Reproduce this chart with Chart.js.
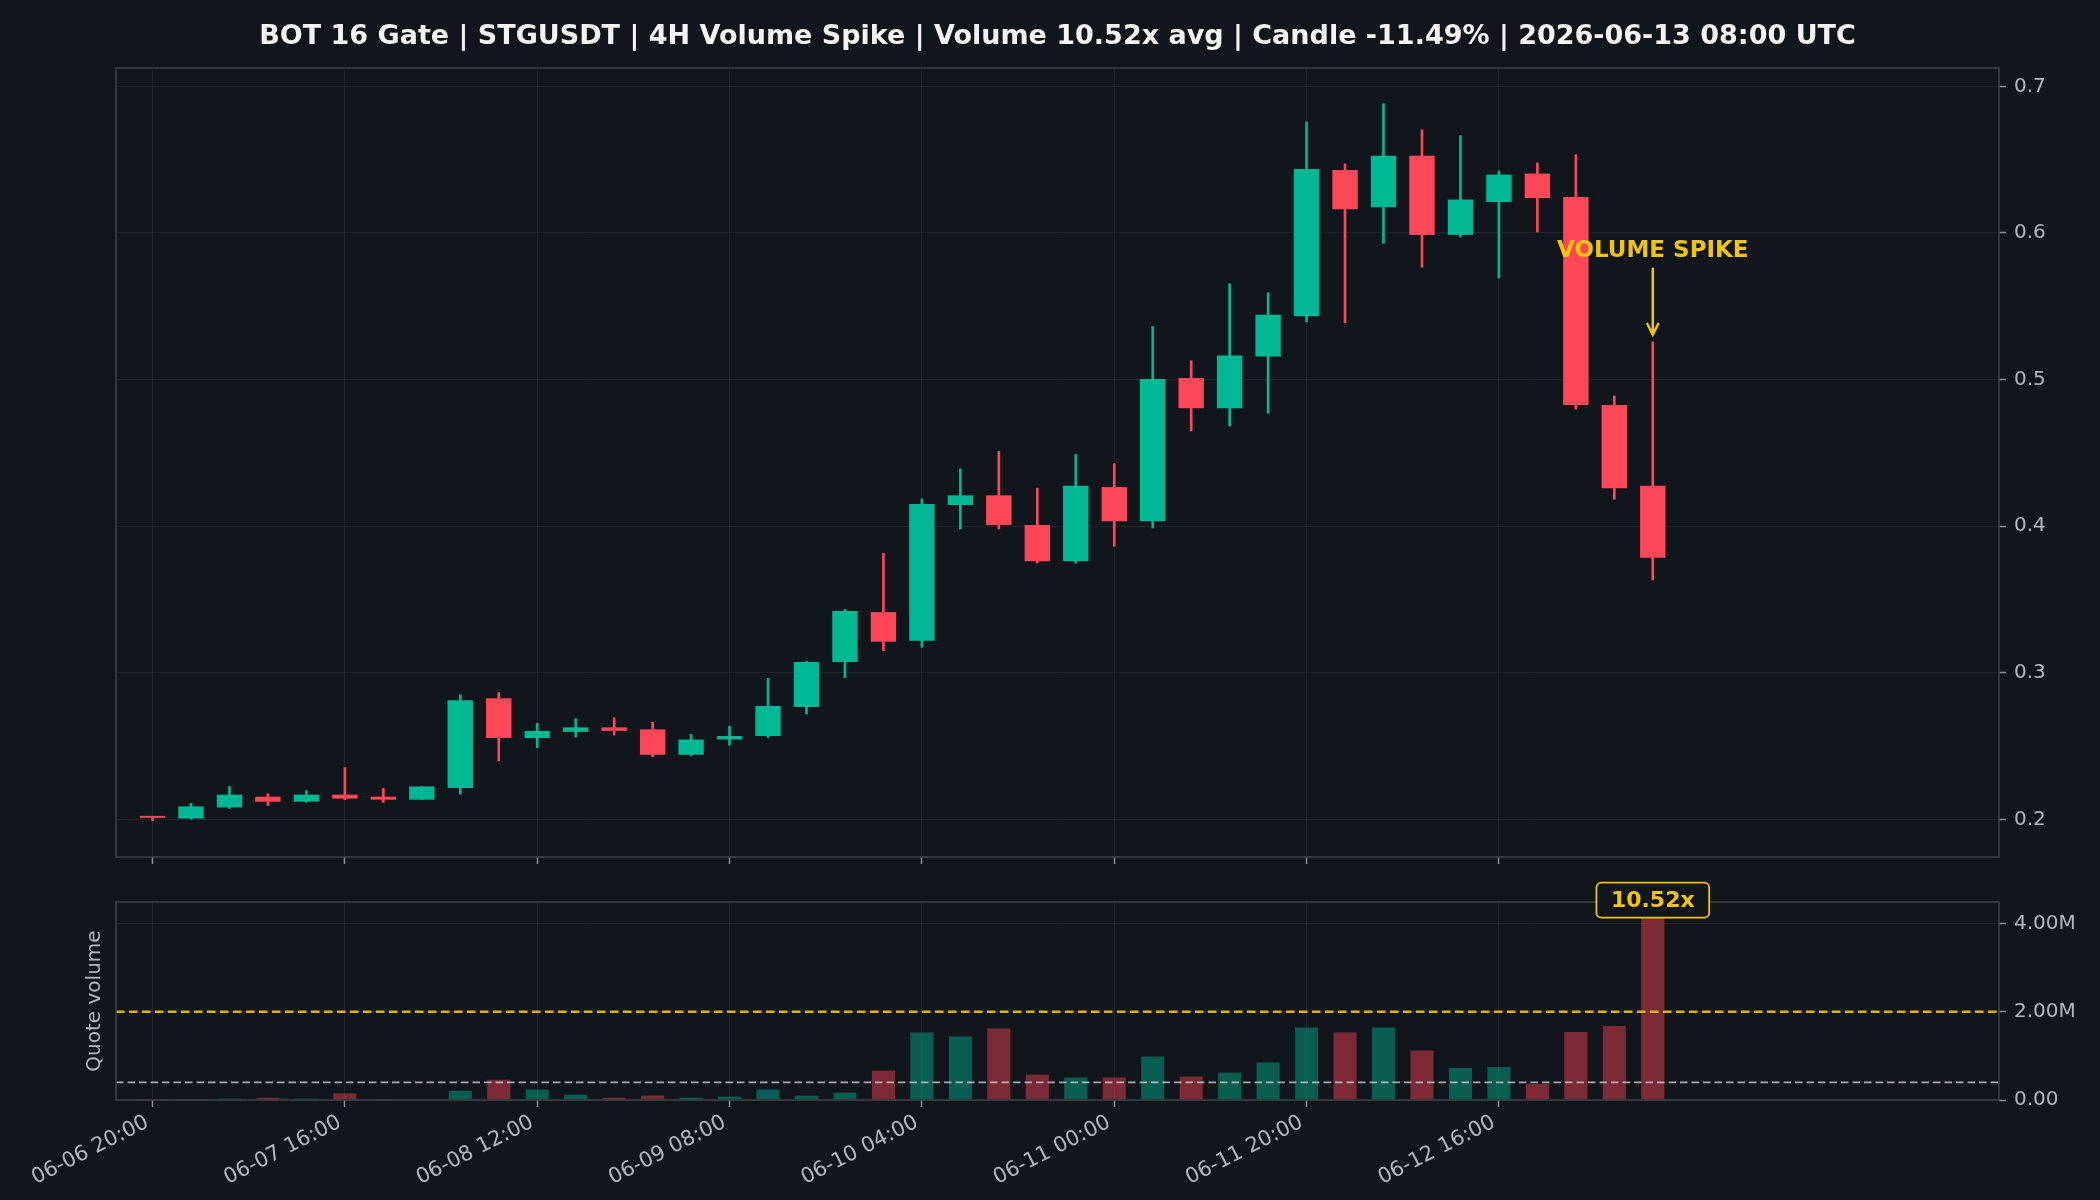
<!DOCTYPE html>
<html>
<head>
<meta charset="utf-8">
<script src="https://cdn.jsdelivr.net/npm/chart.js@4.4.1/dist/chart.umd.min.js"></script>
<style>
html, body { margin: 0; padding: 0; background: #11151c; }
#wrap { position: relative; width: 2100px; height: 1200px; background: #11151c; }
canvas { position: absolute; left: 0; top: 0; }
</style>
</head>
<body>
<div id="wrap">
  <canvas id="price" width="2100" height="1200"></canvas>
  <canvas id="vol" width="2100" height="1200"></canvas>
</div>
<script>
// ---------------- DATA ----------------
const titleText = 'BOT 16 Gate | STGUSDT | 4H Volume Spike | Volume 10.52x avg | Candle -11.49% | 2026-06-13 08:00 UTC';
const tickIndex = [0, 5, 10, 15, 20, 25, 30, 35];
const tickLabels = ['06-06 20:00', '06-07 16:00', '06-08 12:00', '06-09 08:00', '06-10 04:00', '06-11 00:00', '06-11 20:00', '06-12 16:00'];

const openP  = [0.2020, 0.2007, 0.2083, 0.2156, 0.2122, 0.2170, 0.2156, 0.2136, 0.2216, 0.2828,
                0.2556, 0.2598, 0.2629, 0.2615, 0.2442, 0.2546, 0.2570, 0.2768, 0.3074, 0.3415,
                0.3220, 0.4145, 0.4211, 0.4009, 0.3762, 0.4267, 0.4034, 0.5011, 0.4805, 0.5157,
                0.5432, 0.6429, 0.6175, 0.6526, 0.5987, 0.6211, 0.6405, 0.6245, 0.4827, 0.4277];
const highP  = [0.2022, 0.2111, 0.2226, 0.2177, 0.2198, 0.2355, 0.2212, 0.2226, 0.2852, 0.2866,
                0.2657, 0.2688, 0.2695, 0.2664, 0.2581, 0.2636, 0.2963, 0.3078, 0.3433, 0.3815,
                0.4187, 0.4392, 0.4510, 0.4260, 0.4490, 0.4427, 0.5362, 0.5129, 0.5654, 0.5592,
                0.6757, 0.6471, 0.6882, 0.6704, 0.6663, 0.6423, 0.6478, 0.6534, 0.4889, 0.5258];
const lowP   = [0.1992, 0.2003, 0.2076, 0.2097, 0.2118, 0.2136, 0.2118, 0.2136, 0.2174, 0.2400,
                0.2490, 0.2563, 0.2577, 0.2428, 0.2435, 0.2508, 0.2560, 0.2720, 0.2967, 0.3151,
                0.3175, 0.3982, 0.3982, 0.3749, 0.3749, 0.3864, 0.3989, 0.4650, 0.4684, 0.4771,
                0.5394, 0.5387, 0.5929, 0.5766, 0.5971, 0.5693, 0.6006, 0.4799, 0.4184, 0.3634];
const closeP = [0.2012, 0.2090, 0.2170, 0.2122, 0.2170, 0.2143, 0.2136, 0.2226, 0.2814, 0.2556,
                0.2605, 0.2629, 0.2605, 0.2442, 0.2546, 0.2570, 0.2775, 0.3074, 0.3422, 0.3213,
                0.4152, 0.4211, 0.4009, 0.3762, 0.4277, 0.4034, 0.5004, 0.4805, 0.5164, 0.5442,
                0.6436, 0.6161, 0.6526, 0.5987, 0.6228, 0.6398, 0.6238, 0.4827, 0.4260, 0.3786];
// quote volume, millions
const volumeM = [0.004, 0.006, 0.030, 0.050, 0.030, 0.150, 0.008, 0.012, 0.210, 0.460,
                 0.235, 0.120, 0.050, 0.100, 0.050, 0.075, 0.235, 0.100, 0.167, 0.667,
                 1.530, 1.440, 1.620, 0.576, 0.510, 0.510, 0.985, 0.530, 0.620, 0.850,
                 1.640, 1.530, 1.640, 1.120, 0.725, 0.747, 0.362, 1.540, 1.675, 4.208];
const avgVolumeM = 0.40;
const thresholdM = 2.00;
const spikeLabel = '10.52x';
const spikeText = 'VOLUME SPIKE';
const priceTicks = [0.2, 0.3, 0.4, 0.5, 0.6, 0.7];
const priceTickLabels = ['0.2', '0.3', '0.4', '0.5', '0.6', '0.7'];
const volTicks = [0, 2, 4];
const volTickLabels = ['0.00', '2.00M', '4.00M'];
const volAxisTitle = 'Quote volume';

// ---------------- STYLE ----------------
const BG = '#11151c';
const GREEN = '#00b894', RED = '#ff4757';
const GREEN_V = 'rgba(0,184,148,0.45)', RED_V = 'rgba(255,71,87,0.45)';
const YELLOW = '#f1c40f';
const GRID = 'rgba(255,255,255,0.065)';
const TICKC = '#8b9098';
const LABEL = '#b2b7be';
const FRAME = '#3b4049';
const FONT = '"DejaVu Sans", sans-serif';
const X_MIN = -0.95, X_MAX = 48;

Chart.defaults.font.family = FONT;

const up = openP.map((o, i) => closeP[i] >= o);
const candleColors = up.map(u => u ? GREEN : RED);
const volColors = up.map(u => u ? GREEN_V : RED_V);
const spikeIdx = volumeM.length - 1;

const framePlugin = {
  id: 'frame',
  afterDraw(chart) {
    const a = chart.chartArea, ctx = chart.ctx;
    ctx.save();
    ctx.strokeStyle = FRAME;
    ctx.lineWidth = 1.6;
    ctx.strokeRect(a.left, a.top, a.right - a.left, a.bottom - a.top);
    ctx.restore();
  }
};

const priceAnnot = {
  id: 'priceAnnot',
  afterDraw(chart) {
    const ctx = chart.ctx;
    const px = chart.scales.x.getPixelForValue(spikeIdx);
    const py = chart.scales.y.getPixelForValue(highP[spikeIdx]);
    ctx.save();
    ctx.fillStyle = YELLOW;
    ctx.font = 'bold 23px ' + FONT;
    ctx.textAlign = 'center';
    ctx.textBaseline = 'middle';
    ctx.fillText(spikeText, px, py - 91);
    ctx.strokeStyle = YELLOW;
    ctx.lineWidth = 2.5;
    ctx.lineCap = 'round';
    ctx.beginPath();
    ctx.moveTo(px, py - 73);
    ctx.lineTo(px, py - 7);
    ctx.moveTo(px - 5.5, py - 18);
    ctx.lineTo(px, py - 7);
    ctx.lineTo(px + 5.5, py - 18);
    ctx.stroke();
    ctx.restore();
  }
};

const volAnnot = {
  id: 'volAnnot',
  afterDraw(chart) {
    const ctx = chart.ctx;
    const a = chart.chartArea;
    const px = chart.scales.x.getPixelForValue(spikeIdx);
    const py = chart.scales.y.getPixelForValue(volumeM[spikeIdx]);
    ctx.save();
    ctx.font = 'bold 22px ' + FONT;
    const tw = ctx.measureText(spikeLabel).width;
    const w = tw + 29, h = 35;
    const cy = py - 14;
    ctx.beginPath();
    ctx.roundRect(px - w / 2, cy - h / 2, w, h, 5);
    ctx.fillStyle = BG;
    ctx.fill();
    ctx.strokeStyle = YELLOW;
    ctx.lineWidth = 1.8;
    ctx.stroke();
    ctx.fillStyle = YELLOW;
    ctx.textAlign = 'center';
    ctx.textBaseline = 'middle';
    ctx.fillText(spikeLabel, px, cy + 1);
    // y-axis title on the left
    ctx.translate(a.left - 21, (a.top + a.bottom) / 2);
    ctx.rotate(-Math.PI / 2);
    ctx.font = '20px ' + FONT;
    ctx.fillStyle = LABEL;
    ctx.fillText(volAxisTitle, 0, 0);
    ctx.restore();
  }
};

// ---------------- PRICE CHART ----------------
new Chart(document.getElementById('price'), {
  type: 'bar',
  data: {
    datasets: [
      {
        data: openP.map((o, i) => ({ x: i, y: [o, closeP[i]] })),
        backgroundColor: candleColors,
        borderWidth: 0,
        grouped: false,
        categoryPercentage: 1,
        barPercentage: 0.66,
        minBarLength: 2
      },
      {
        data: lowP.map((l, i) => ({ x: i, y: [l, highP[i]] })),
        backgroundColor: candleColors,
        borderWidth: 0,
        grouped: false,
        barThickness: 2
      }
    ]
  },
  options: {
    responsive: false,
    animation: false,
    devicePixelRatio: 1,
    layout: { padding: { left: 116, top: 0, right: 0, bottom: 0 } },
    plugins: {
      legend: { display: false },
      tooltip: { enabled: false },
      title: {
        display: true,
        text: titleText,
        fullSize: false,
        color: '#f2f3f5',
        font: { family: FONT, size: 27, weight: 'bold', lineHeight: 1.2 },
        padding: { top: 20.3, bottom: 15.3 }
      }
    },
    scales: {
      x: {
        type: 'linear',
        min: X_MIN, max: X_MAX,
        offset: false,
        z: 1,
        afterBuildTicks: s => { s.ticks = tickIndex.map(v => ({ value: v })); },
        afterFit: s => { s.height = 343; },
        ticks: { display: false },
        grid: { color: GRID, offset: false, tickColor: TICKC, tickLength: 7, tickWidth: 1.5, lineWidth: 1 },
        border: { display: false }
      },
      y: {
        type: 'linear',
        position: 'right',
        min: 0.1745, max: 0.7125,
        z: 1,
        afterBuildTicks: s => { s.ticks = priceTicks.map(v => ({ value: v })); },
        afterFit: s => { s.width = 101; },
        ticks: {
          color: LABEL,
          font: { family: FONT, size: 20 },
          padding: 8,
          callback: (v, i) => priceTickLabels[i]
        },
        grid: { color: GRID, tickColor: TICKC, tickLength: 7, tickWidth: 1.5, lineWidth: 1 },
        border: { display: false }
      }
    }
  },
  plugins: [framePlugin, priceAnnot]
});

// ---------------- VOLUME CHART ----------------
new Chart(document.getElementById('vol'), {
  type: 'bar',
  data: {
    datasets: [
      {
        type: 'line',
        data: [{ x: X_MIN, y: thresholdM }, { x: X_MAX, y: thresholdM }],
        borderColor: 'rgba(241,196,15,0.9)',
        borderWidth: 2.6,
        borderDash: [8.5, 4.5],
        pointRadius: 0
      },
      {
        type: 'line',
        data: [{ x: X_MIN, y: avgVolumeM }, { x: X_MAX, y: avgVolumeM }],
        borderColor: 'rgba(205,208,214,0.8)',
        borderWidth: 1.8,
        borderDash: [7.5, 4],
        pointRadius: 0
      },
      {
        type: 'bar',
        data: volumeM.map((v, i) => ({ x: i, y: v })),
        backgroundColor: volColors,
        borderWidth: 0,
        grouped: false,
        categoryPercentage: 1,
        barPercentage: 0.6
      }
    ]
  },
  options: {
    responsive: false,
    animation: false,
    devicePixelRatio: 1,
    layout: { padding: { left: 116, top: 902, right: 0, bottom: 0 } },
    plugins: { legend: { display: false }, tooltip: { enabled: false }, title: { display: false } },
    scales: {
      x: {
        type: 'linear',
        min: X_MIN, max: X_MAX,
        offset: false,
        afterBuildTicks: s => { s.ticks = tickIndex.map(v => ({ value: v })); },
        afterFit: s => { s.height = 100; },
        ticks: {
          autoSkip: false,
          minRotation: 27, maxRotation: 27,
          color: LABEL,
          font: { family: FONT, size: 21 },
          padding: 3,
          labelOffset: -5,
          callback: (v, i) => tickLabels[i]
        },
        grid: { color: GRID, offset: false, tickColor: TICKC, tickLength: 7, tickWidth: 1.5, lineWidth: 1 },
        border: { display: false }
      },
      y: {
        type: 'linear',
        position: 'right',
        min: 0, max: 4.484,
        afterBuildTicks: s => { s.ticks = volTicks.map(v => ({ value: v })); },
        afterFit: s => { s.width = 101; },
        ticks: {
          color: LABEL,
          font: { family: FONT, size: 20 },
          padding: 8,
          callback: (v, i) => volTickLabels[i]
        },
        grid: { color: GRID, tickColor: TICKC, tickLength: 7, tickWidth: 1.5, lineWidth: 1 },
        border: { display: false }
      }
    }
  },
  plugins: [framePlugin, volAnnot]
});
</script>
</body>
</html>
